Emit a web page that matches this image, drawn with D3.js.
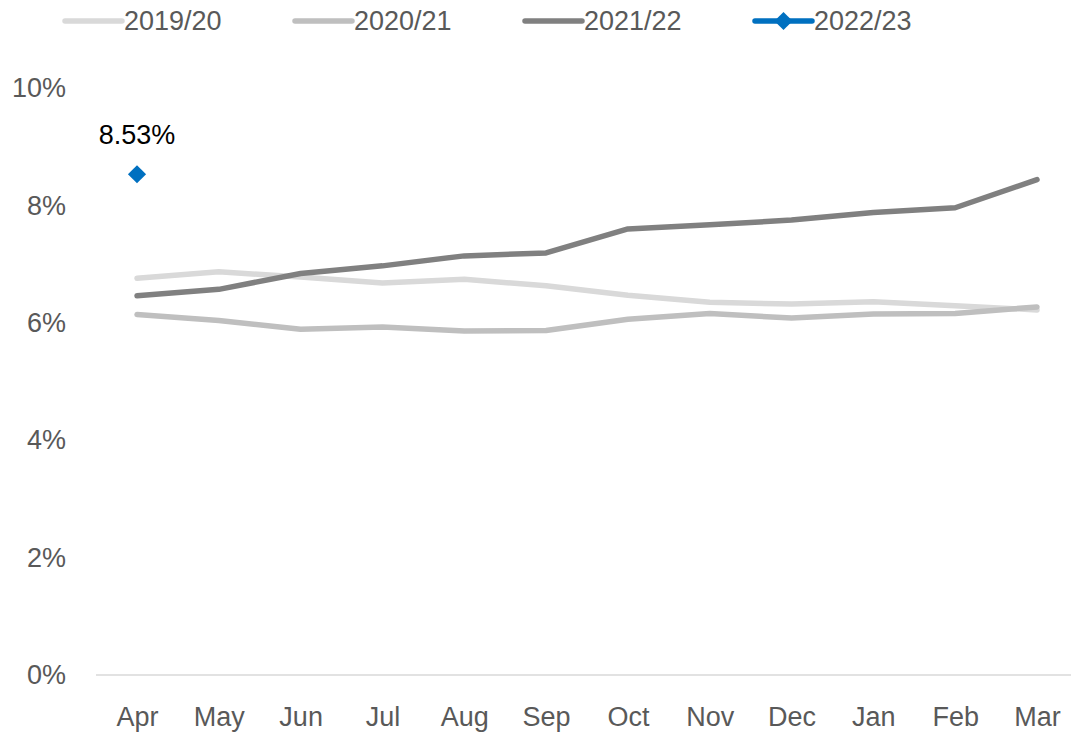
<!DOCTYPE html>
<html>
<head>
<meta charset="utf-8">
<script src="https://cdn.jsdelivr.net/npm/d3@7"></script>
<style>
  body { margin: 0; background: #fff; }
  text { font-family: "Liberation Sans", Arial, sans-serif; }
</style>
</head>
<body>
<div id="chart"></div>
<script>
'use strict';

// months of the financial year
let months = ['Apr', 'May', 'Jun', 'Jul', 'Aug', 'Sep', 'Oct', 'Nov', 'Dec', 'Jan', 'Feb', 'Mar'];

// values in %
let fy1920 = [6.76, 6.87, 6.78, 6.68, 6.74, 6.63, 6.47, 6.35, 6.32, 6.36, 6.29, 6.22];
let fy2021 = [6.14, 6.04, 5.89, 5.93, 5.86, 5.87, 6.06, 6.16, 6.08, 6.15, 6.16, 6.27];
let fy2122 = [6.46, 6.57, 6.84, 6.97, 7.14, 7.19, 7.60, 7.67, 7.75, 7.88, 7.96, 8.44];
let fy2223 = [8.53];

let yTicks = [0, 2, 4, 6, 8, 10];

let series = [
    {name: '2019/20', values: fy1920, colour: '#d9d9d9'},
    {name: '2020/21', values: fy2021, colour: '#bfbfbf'},
    {name: '2021/22', values: fy2122, colour: '#808080'},
    {name: '2022/23', values: fy2223, colour: '#0070c0', marker: true}
];

let width = 1071, height = 734;

let svg = d3.select('#chart').append('svg')
    .attr('width', width)
    .attr('height', height);

let x = d3.scalePoint().domain(months).range([137, 1037]);
let y = d3.scaleLinear().domain([0, 10]).range([675, 88]);

// baseline
svg.append('line')
    .attr('x1', 96).attr('x2', width)
    .attr('y1', y(0)).attr('y2', y(0))
    .attr('stroke', '#d9d9d9')
    .attr('stroke-width', 1.5);

// y axis labels
let yAxis = d3.axisLeft(y).tickValues(yTicks).tickFormat(function(d) { return d + '%'; }).tickSize(0).tickPadding(0);
let yg = svg.append('g').attr('transform', 'translate(66,0)').call(yAxis);
yg.select('.domain').remove();
yg.selectAll('text')
    .attr('fill', '#595959')
    .style('font-size', '27px')
    .style('font-family', '"Liberation Sans", Arial, sans-serif');

// x axis labels
let xAxis = d3.axisBottom(x).tickSize(0).tickPadding(0);
let xg = svg.append('g').attr('transform', 'translate(0,707)').call(xAxis);
xg.select('.domain').remove();
xg.selectAll('text')
    .attr('fill', '#595959')
    .style('font-size', '27px')
    .style('font-family', '"Liberation Sans", Arial, sans-serif');

let line = d3.line()
    .x(function(d, i) { return x(months[i]); })
    .y(function(d) { return y(d); });

series.forEach(function(s) {
    if (s.values.length > 1) {
        svg.append('path')
            .datum(s.values)
            .attr('fill', 'none')
            .attr('stroke', s.colour)
            .attr('stroke-width', 5.5)
            .attr('stroke-linejoin', 'round')
            .attr('stroke-linecap', 'round')
            .attr('d', line);
    }
    if (s.marker) {
        svg.selectAll('path.marker')
            .data(s.values)
            .enter().append('path')
            .attr('class', 'marker')
            .attr('d', d3.symbol().type(d3.symbolDiamond2).size(210))
            .attr('transform', function(d, i) { return 'translate(' + x(months[i]) + ',' + y(d) + ')'; })
            .attr('fill', s.colour);
        svg.selectAll('text.dlabel')
            .data(s.values)
            .enter().append('text')
            .attr('class', 'dlabel')
            .attr('x', function(d, i) { return x(months[i]); })
            .attr('y', function(d) { return y(d) - 30; })
            .attr('text-anchor', 'middle')
            .attr('fill', '#000')
            .style('font-size', '27px')
            .text(function(d) { return d.toFixed(2) + '%'; });
    }
});

// legend
let legendX = [65, 295, 525, 755];
let lg = svg.append('g').attr('class', 'legend');
series.forEach(function(s, i) {
    let g = lg.append('g').attr('transform', 'translate(' + legendX[i] + ',21)');
    g.append('line')
        .attr('x1', 0).attr('x2', 57)
        .attr('y1', 0).attr('y2', 0)
        .attr('stroke', s.colour)
        .attr('stroke-width', 5.5)
        .attr('stroke-linecap', 'round');
    if (s.marker) {
        g.append('path')
            .attr('d', d3.symbol().type(d3.symbolDiamond2).size(210))
            .attr('transform', 'translate(28.5,0)')
            .attr('fill', s.colour);
    }
    g.append('text')
        .attr('x', 59)
        .attr('y', 0)
        .attr('dy', '0.35em')
        .attr('fill', '#595959')
        .style('font-size', '27px')
        .text(s.name);
});
</script>
</body>
</html>
